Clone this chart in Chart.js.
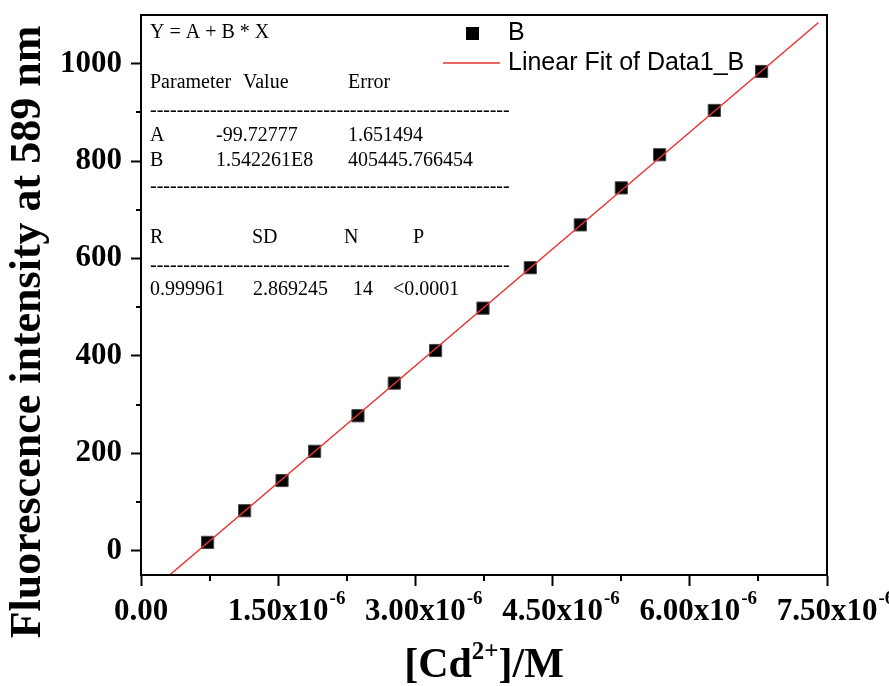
<!DOCTYPE html>
<html>
<head>
<meta charset="utf-8">
<script src="https://cdn.jsdelivr.net/npm/chart.js@4.4.1/dist/chart.umd.min.js"></script>
<style>
    html, body { margin: 0; padding: 0; background: #fff; }
    #wrap { width: 889px; height: 686px; }
</style>
</head>
<body>
<div id="wrap"><canvas id="grafico" width="889" height="686"></canvas></div>
<script>
// =======================
// DATA
// =======================
const concCd = [0.728e-6, 1.133e-6, 1.542e-6, 1.898e-6, 2.372e-6, 2.769e-6, 3.221e-6,
                3.739e-6, 4.256e-6, 4.803e-6, 5.251e-6, 5.670e-6, 6.268e-6, 6.785e-6];
const intensidade = [17, 82, 144, 204, 277, 344, 411, 498, 581, 669, 745, 813, 904, 984];

// ends of the fitted line
const fitX = [0.313e-6, 7.405e-6];
const fitY = [-50, 1084];

const xMajor = [0, 1.5e-6, 3.0e-6, 4.5e-6, 6.0e-6, 7.5e-6];
const xMinor = [0.75e-6, 2.25e-6, 3.75e-6, 5.25e-6, 6.75e-6];
const xLabels = ["0.00", "1.50x10", "3.00x10", "4.50x10", "6.00x10", "7.50x10"];
const xLabelExp = ["", "-6", "-6", "-6", "-6", "-6"];

const yMajor = [0, 200, 400, 600, 800, 1000];
const yMinor = [100, 300, 500, 700, 900];

const legendLabels = ["B", "Linear Fit of Data1_B"];

const fitEquation = "Y = A + B * X";
const fitHeader = ["Parameter", "Value", "Error"];
const fitParams = [
    ["A", "-99.72777", "1.651494"],
    ["B", "1.542261E8", "405445.766454"]
];
const fitStatsHeader = ["R", "SD", "N", "P"];
const fitStats = ["0.999961", "2.869245", "14", "<0.0001"];

// =======================
// STYLE
// =======================
const SERIF = "'Liberation Serif', 'Times New Roman', serif";
const SANS = "'Liberation Sans', Arial, sans-serif";
const RED = "rgb(232, 52, 52)";

// =======================
// PLUGIN: frame, minor ticks, x labels, titles, fit box, legend
// =======================
const extras = {
    id: "extras",
    afterDraw(chart) {
        const ctx = chart.ctx;
        const a = chart.chartArea;
        const xs = chart.scales.x;
        const ys = chart.scales.y;

        ctx.save();

        // frame
        ctx.strokeStyle = "#000";
        ctx.lineWidth = 2;
        ctx.strokeRect(a.left, a.top, a.right - a.left, a.bottom - a.top);

        // minor ticks
        ctx.lineWidth = 2;
        ctx.beginPath();
        yMinor.forEach(v => {
            const y = Math.round(ys.getPixelForValue(v));
            ctx.moveTo(a.left, y);
            ctx.lineTo(a.left - 5, y);
        });
        xMinor.forEach(v => {
            const x = Math.round(xs.getPixelForValue(v));
            ctx.moveTo(x, a.bottom);
            ctx.lineTo(x, a.bottom + 6);
        });
        ctx.stroke();

        // x tick labels with exponent
        ctx.fillStyle = "#000";
        ctx.textBaseline = "alphabetic";
        xMajor.forEach((v, i) => {
            const x = xs.getPixelForValue(v);
            ctx.font = "bold 31px " + SERIF;
            const w = ctx.measureText(xLabels[i]).width;
            ctx.textAlign = "left";
            ctx.fillText(xLabels[i], x - w / 2, a.bottom + 45);
            if (xLabelExp[i]) {
                ctx.font = "bold 19px " + SERIF;
                ctx.fillText(xLabelExp[i], x + w / 2 + 1, a.bottom + 29);
            }
        });

        // x title [Cd2+]/M
        const parts = [["[Cd", 42, 0], ["2+", 25, -18], ["]/M", 42, 0]];
        let total = 0;
        parts.forEach(p => {
            ctx.font = "bold " + p[1] + "px " + SERIF;
            total += ctx.measureText(p[0]).width;
        });
        let cx = (a.left + a.right) / 2 - total / 2;
        parts.forEach(p => {
            ctx.font = "bold " + p[1] + "px " + SERIF;
            ctx.textAlign = "left";
            ctx.fillText(p[0], cx, 677 + p[2]);
            cx += ctx.measureText(p[0]).width;
        });

        // y title
        ctx.save();
        ctx.translate(29, 332);
        ctx.rotate(-Math.PI / 2);
        ctx.font = "bold 44px " + SERIF;
        ctx.textAlign = "center";
        ctx.textBaseline = "middle";
        ctx.fillText("Fluorescence intensity at 589 nm", 0, 0);
        ctx.restore();

        // fit result box
        const L = a.left;
        ctx.font = "20px " + SERIF;
        ctx.textAlign = "left";
        ctx.textBaseline = "middle";
        ctx.fillText(fitEquation, L + 9, 33);

        const headX = [9, 102, 207];
        fitHeader.forEach((t, i) => ctx.fillText(t, L + headX[i], 83));

        const parX = [9, 75, 207];
        fitParams.forEach((row, r) => {
            row.forEach((t, i) => ctx.fillText(t, L + parX[i], 136 + r * 25));
        });

        const statHX = [9, 111, 203, 272];
        fitStatsHeader.forEach((t, i) => ctx.fillText(t, L + statHX[i], 238));
        const statX = [9, 112, 212, 252];
        fitStats.forEach((t, i) => ctx.fillText(t, L + statX[i], 290));

        // dashed separators made of hyphens
        let dashes = "";
        while (ctx.measureText(dashes + "-").width < 361) dashes += "-";
        [111, 187, 266].forEach(y => ctx.fillText(dashes, L + 9, y));

        // legend
        const ds0 = chart.data.datasets[0];
        const ds1 = chart.data.datasets[1];
        ctx.fillStyle = ds0.pointBackgroundColor;
        ctx.fillRect(466, 27, 13, 13);
        ctx.strokeStyle = ds1.borderColor;
        ctx.lineWidth = 1.5;
        ctx.beginPath();
        ctx.moveTo(443, 63);
        ctx.lineTo(500, 63);
        ctx.stroke();
        ctx.fillStyle = "#000";
        ctx.font = "25px " + SANS;
        ctx.fillText(legendLabels[0], 508, 33);
        ctx.fillText(legendLabels[1], 508, 63);

        ctx.restore();
    }
};

const bgWhite = {
    id: "bgWhite",
    beforeDraw(chart) {
        const ctx = chart.ctx;
        ctx.save();
        ctx.fillStyle = "#fff";
        ctx.fillRect(0, 0, chart.width, chart.height);
        ctx.restore();
    }
};

// =======================
// CHART
// =======================
const pontos = concCd.map((x, i) => ({ x, y: intensidade[i] }));
const reta = fitX.map((x, i) => ({ x, y: fitY[i] }));

new Chart(document.getElementById("grafico"), {
    type: "scatter",
    data: {
        datasets: [
            {
                label: legendLabels[0],
                data: pontos,
                pointStyle: "rect",
                pointRadius: 8.6,
                pointHoverRadius: 8.6,
                pointBackgroundColor: "#000",
                pointBorderColor: "#444",
                pointBorderWidth: 1,
                order: 2
            },
            {
                label: legendLabels[1],
                type: "line",
                data: reta,
                borderColor: RED,
                borderWidth: 1.5,
                pointRadius: 0,
                fill: false,
                order: 1
            }
        ]
    },
    options: {
        responsive: false,
        animation: false,
        devicePixelRatio: 1,
        layout: { padding: { left: 0, top: 15, right: 62, bottom: 0 } },
        plugins: {
            legend: { display: false },
            tooltip: { enabled: false }
        },
        scales: {
            x: {
                type: "linear",
                min: 0,
                max: 7.5e-6,
                afterBuildTicks: s => { s.ticks = xMajor.map(v => ({ value: v })); },
                afterFit: s => { s.height = 111; s.paddingLeft = 0; s.paddingRight = 0; },
                ticks: { display: false },
                grid: { drawOnChartArea: false, drawTicks: true, tickLength: 11, tickWidth: 2, tickColor: "#000" },
                border: { display: true, color: "#000", width: 2 }
            },
            y: {
                type: "linear",
                min: -50,
                max: 1100,
                afterBuildTicks: s => { s.ticks = yMajor.map(v => ({ value: v })); },
                afterFit: s => { s.width = 141; s.paddingTop = 0; s.paddingBottom = 0; },
                ticks: {
                    color: "#000",
                    padding: 9,
                    font: { family: SERIF, size: 31, weight: "bold" },
                    callback: v => String(v)
                },
                grid: { drawOnChartArea: false, drawTicks: true, tickLength: 10, tickWidth: 2, tickColor: "#000" },
                border: { display: true, color: "#000", width: 2 }
            }
        }
    },
    plugins: [bgWhite, extras]
});
</script>
</body>
</html>
